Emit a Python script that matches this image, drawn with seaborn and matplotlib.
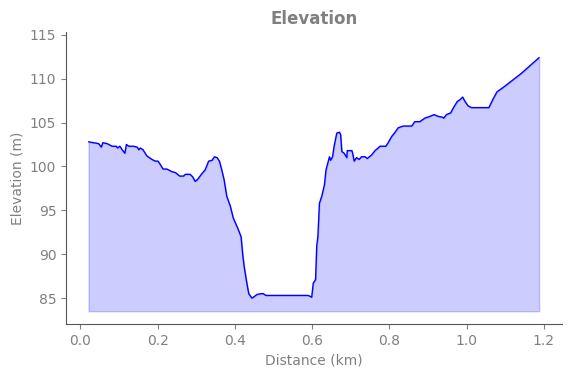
import numpy as np
import pandas as pd
import matplotlib
matplotlib.use("Agg")
import matplotlib.pyplot as plt
import seaborn as sns

# Elevation profile
distance_km = [
    0.021, 0.047, 0.054, 0.058, 0.069, 0.082, 0.093, 0.096, 0.102, 0.108,
    0.115, 0.119, 0.125, 0.138, 0.147, 0.151, 0.155, 0.162, 0.172, 0.185,
    0.194, 0.201, 0.207, 0.214, 0.224, 0.237, 0.246, 0.257, 0.267, 0.272,
    0.284, 0.291, 0.297, 0.303, 0.315, 0.323, 0.332, 0.341, 0.347, 0.354,
    0.360, 0.366, 0.372, 0.379, 0.388, 0.396, 0.407, 0.416, 0.420, 0.424,
    0.431, 0.436, 0.444, 0.448, 0.457, 0.467, 0.474, 0.480, 0.590, 0.599,
    0.603, 0.609, 0.612, 0.615, 0.619, 0.625, 0.632, 0.636, 0.642, 0.645,
    0.648, 0.653, 0.657, 0.664, 0.671, 0.674, 0.677, 0.683, 0.690, 0.691,
    0.703, 0.705, 0.709, 0.715, 0.722, 0.728, 0.737, 0.743, 0.754, 0.763,
    0.771, 0.776, 0.791, 0.797, 0.806, 0.815, 0.823, 0.836, 0.858, 0.866,
    0.879, 0.892, 0.905, 0.916, 0.927, 0.938, 0.941, 0.948, 0.959, 0.965,
    0.976, 0.983, 0.990, 0.996, 1.004, 1.013, 1.058, 1.069, 1.079, 1.095,
    1.142, 1.188,
]
elevation_m = [
    102.8, 102.6, 102.2, 102.7, 102.6, 102.3, 102.3, 102.1, 102.3, 101.9,
    101.5, 102.5, 102.3, 102.3, 102.2, 101.9, 102.1, 101.9, 101.2, 100.8,
    100.6, 100.6, 100.2, 99.7, 99.7, 99.4, 99.3, 98.9, 98.9, 99.1,
    99.1, 98.8, 98.3, 98.5, 99.2, 99.6, 100.6, 100.7, 101.1, 101.0,
    100.6, 99.6, 98.5, 96.6, 95.5, 94.1, 93.0, 92.0, 90.1, 88.6,
    86.7, 85.5, 85.0, 85.1, 85.4, 85.5, 85.5, 85.3, 85.3, 85.1,
    86.7, 87.1, 90.9, 92.0, 95.8, 96.6, 97.9, 99.6, 100.6, 101.1,
    100.7, 101.1, 102.3, 103.8, 103.9, 103.6, 101.7, 101.5, 101.0, 101.8,
    101.8, 101.5, 100.6, 101.0, 100.8, 101.1, 101.1, 100.9, 101.3, 101.8,
    102.1, 102.3, 102.3, 102.7, 103.4, 103.9, 104.4, 104.6, 104.6, 105.1,
    105.1, 105.5, 105.7, 105.9, 105.7, 105.6, 105.5, 105.9, 106.1, 106.6,
    107.4, 107.6, 107.9, 107.4, 106.9, 106.7, 106.7, 107.7, 108.5, 109.0,
    110.6, 112.4,
]

df = pd.DataFrame({"distance": distance_km, "elevation": elevation_m})

sns.set_style("ticks")
text_color = "gray"
plt.rcParams["text.color"] = text_color
plt.rcParams["axes.labelcolor"] = text_color
plt.rcParams["xtick.color"] = text_color
plt.rcParams["ytick.color"] = text_color
plt.rcParams["axes.edgecolor"] = "#555555"

fig = plt.figure(figsize=(5.71, 3.78), dpi=100)
ax = fig.add_axes([0.1156, 0.143, 0.868, 0.772])

base = df["elevation"].min() - 1.5
ax.fill_between(df["distance"], df["elevation"], base, color="blue", alpha=0.2)
sns.lineplot(data=df, x="distance", y="elevation", color="blue", linewidth=1, ax=ax)

ax.set_ylim(82.05, 115.3)
ax.set_yticks([85, 90, 95, 100, 105, 110, 115])
ax.set_title("Elevation", fontsize=12, fontweight="bold", color=text_color)
ax.set_xlabel("Distance (km)", fontsize=10)
ax.set_ylabel("Elevation (m)", fontsize=10)
ax.tick_params(labelsize=10)
sns.despine(ax=ax)

fig.savefig("out.png", dpi=100)
